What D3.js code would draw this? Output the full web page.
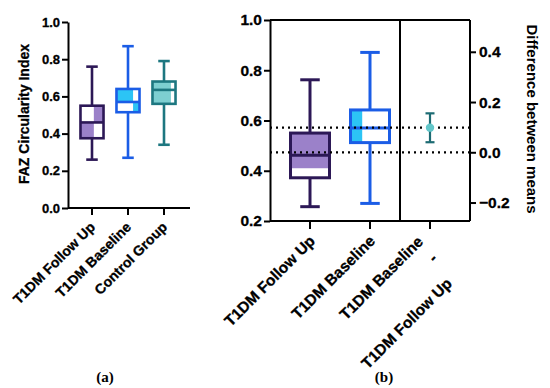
<!DOCTYPE html>
<html>
<head>
<meta charset="utf-8">
<script src="https://cdn.jsdelivr.net/npm/d3@7"></script>
<style>
  body { margin: 0; background: #fff; }
  svg { display: block; }
</style>
</head>
<body>
<svg id="chart" width="550" height="388"></svg>
<script>
// ---- data ----
const groupsA = ["T1DM Follow Up", "T1DM Baseline", "Control Group"];
const minA    = [0.26, 0.27, 0.34];
const q1A     = [0.375, 0.515, 0.56];
const medA    = [0.46, 0.57, 0.635];
const q3A     = [0.55, 0.64, 0.68];
const maxA    = [0.76, 0.87, 0.79];

const groupsB = ["T1DM Follow Up", "T1DM Baseline"];
const minB    = [0.257, 0.27];
const q1B     = [0.372, 0.512];
const medB    = [0.462, 0.57];
const q3B     = [0.55, 0.642];
const maxB    = [0.762, 0.871];
const meansB  = [0.4735, 0.5715];

const diffLabel = ["T1DM Baseline", "-", "T1DM Follow Up"];
const diffMean  = 0.098;
const diffLo    = 0.04;
const diffHi    = 0.155;

const ticksA      = [0, 0.2, 0.4, 0.6, 0.8, 1.0];
const ticksB      = [0.2, 0.4, 0.6, 0.8, 1.0];
const ticksBRight = [-0.2, 0, 0.2, 0.4];

// ---- look ----
const strokeCol = ["#2c1856", "#1b5de6", "#1d7780"];
const fillCol   = ["#9b81c9", "#2cc4f5", "#7dcfd1"];
const font = "'Liberation Sans', Arial, sans-serif";
const fsB = 15.5;   // panel (b) was exported at a larger scale

const svg = d3.select("#chart");

// box interior shading (GraphPad export artefacts), in data units / box fractions
// part: "up" = median..q3, "lo" = q1..median
const shadeA = [
  [{ part: "up", f0: 0.58, f1: 1 }, { part: "lo", f0: 0, f1: 0.58 }],
  [{ part: "up", f0: 0, f1: 0.72 }, { part: "lo", f0: 0.72, f1: 1 }],
  [{ part: "up", f0: 0, f1: 0.8 }, { part: "lo", f0: 0, f1: 0.8 }]
];
const shadeB = [
  [{ lo: 0.41, hi: "q3", f0: 0, f1: 1 }],
  [{ lo: "q1", hi: "q3", f0: 0, f1: 0.3 }]
];

function drawBox(g, x, y, i, d, bw, sw, patches) {
  const cx = x(d.name) + bw / 2;
  const col = strokeCol[i];
  // whiskers
  g.append("line").attr("x1", cx).attr("x2", cx)
    .attr("y1", y(d.max)).attr("y2", y(d.min))
    .attr("stroke", col).attr("stroke-width", sw);
  [d.min, d.max].forEach(v => {
    g.append("line").attr("x1", cx - bw / 4).attr("x2", cx + bw / 4)
      .attr("y1", y(v)).attr("y2", y(v))
      .attr("stroke", col).attr("stroke-width", sw);
  });
  // white box
  g.append("rect").attr("x", x(d.name)).attr("width", bw)
    .attr("y", y(d.q3)).attr("height", y(d.q1) - y(d.q3))
    .attr("fill", "#fff");
  patches.forEach(p => {
    let lo, hi;
    if (p.part === "up") { lo = d.med; hi = d.q3; }
    else if (p.part === "lo") { lo = d.q1; hi = d.med; }
    else { lo = typeof p.lo === "string" ? d[p.lo] : p.lo; hi = typeof p.hi === "string" ? d[p.hi] : p.hi; }
    g.append("rect")
      .attr("x", x(d.name) + bw * p.f0).attr("width", bw * (p.f1 - p.f0))
      .attr("y", y(hi)).attr("height", y(lo) - y(hi))
      .attr("fill", fillCol[i]);
  });
  g.append("rect").attr("x", x(d.name)).attr("width", bw)
    .attr("y", y(d.q3)).attr("height", y(d.q1) - y(d.q3))
    .attr("fill", "none").attr("stroke", col).attr("stroke-width", sw);
  g.append("line").attr("x1", x(d.name)).attr("x2", x(d.name) + bw)
    .attr("y1", y(d.med)).attr("y2", y(d.med))
    .attr("stroke", col).attr("stroke-width", sw);
}

// heavier-looking bold text (the source is a JPEG of Helvetica Bold)
function boldText(sel) {
  sel.attr("fill", "#000").attr("font-family", font).attr("font-weight", "bold")
    .attr("stroke", "#000").attr("stroke-width", 0.3);
}

function styleAxis(sel) {
  sel.selectAll("path, line").attr("stroke", "#000").attr("stroke-width", 2);
  sel.selectAll("text").call(boldText);
}

// ================= panel (a) =================
const yA = d3.scaleLinear().domain([0, 1]).range([208, 22]);
const xA = d3.scaleBand().domain(groupsA).range([74, 182]).paddingInner(0.36).paddingOuter(0.18);
const gA = svg.append("g");

gA.append("g").attr("transform", "translate(68,0)")
  .call(d3.axisLeft(yA).tickValues(ticksA).tickFormat(d3.format(".1f")).tickSize(6).tickSizeOuter(0).tickPadding(2))
  .call(styleAxis)
  .selectAll("text").attr("font-size", 13);

gA.append("g").attr("transform", "translate(0,208)")
  .call(d3.axisBottom(xA).tickSize(7).tickSizeOuter(0))
  .call(styleAxis)
  .call(a => a.select(".domain").attr("d", "M68,0H190"))
  .selectAll("text")
  .attr("font-size", 14).attr("text-anchor", "end")
  .attr("x", 0).attr("y", 0).attr("dy", 0)
  .attr("transform", "translate(4,20) rotate(-45)");

groupsA.forEach((name, i) => {
  drawBox(gA, xA, yA, i,
    { name, min: minA[i], q1: q1A[i], med: medA[i], q3: q3A[i], max: maxA[i] },
    xA.bandwidth(), 2.6, shadeA[i]);
});

gA.append("text")
  .attr("transform", "translate(29,114) rotate(-90)")
  .attr("text-anchor", "middle")
  .attr("font-size", 14)
  .call(boldText)
  .text("FAZ Circularity Index");

// ================= panel (b) =================
const yB = d3.scaleLinear().domain([0.2, 1.0]).range([221, 20]);
const yR = d3.scaleLinear().domain([0.2 - meansB[0], 1.0 - meansB[0]]).range([221, 20]);
const xB = d3.scaleBand().domain([...groupsB, "diff"]).range([280, 460]).paddingInner(0.35).paddingOuter(0.175);
const gB = svg.append("g");
const left = 270, right = 470, divider = 400;

// frame
gB.append("line").attr("x1", left).attr("x2", right).attr("y1", yB(1)).attr("y2", yB(1))
  .attr("stroke", "#000").attr("stroke-width", 2);
gB.append("line").attr("x1", divider).attr("x2", divider).attr("y1", yB(1)).attr("y2", yB(0.2))
  .attr("stroke", "#000").attr("stroke-width", 2);

gB.append("g").attr("transform", `translate(${left},0)`)
  .call(d3.axisLeft(yB).tickValues(ticksB).tickFormat(d3.format(".1f")).tickSize(6).tickSizeOuter(0).tickPadding(2))
  .call(styleAxis)
  .selectAll("text").attr("font-size", fsB);

gB.append("g").attr("transform", `translate(${right},0)`)
  .call(d3.axisRight(yR).tickValues(ticksBRight).tickFormat(d3.format(".1f")).tickSize(6).tickSizeOuter(0).tickPadding(3))
  .call(styleAxis)
  .call(a => a.select(".domain").attr("d", `M0,${yB(1)}V${yB(0.2)}`))
  .selectAll("text").attr("font-size", fsB);

const xAxB = gB.append("g").attr("transform", `translate(0,${yB(0.2)})`)
  .call(d3.axisBottom(xB).tickSize(8).tickSizeOuter(0).tickFormat(d => d === "diff" ? "" : d))
  .call(styleAxis)
  .call(a => a.select(".domain").attr("d", `M${left},0H${right}`));
xAxB.selectAll("text")
  .attr("font-size", fsB).attr("text-anchor", "end")
  .attr("x", 0).attr("y", 0).attr("dy", 0)
  .attr("transform", "translate(6,21) rotate(-45)");

// multi-line label for the difference column
const dl = gB.append("text")
  .attr("transform", `translate(${xB("diff") + xB.bandwidth() / 2 + 6},${yB(0.2) + 21}) rotate(-45)`)
  .attr("text-anchor", "end")
  .attr("font-size", fsB)
  .call(boldText);
const lineX = [-9, -11, -18];
const lineY = [-8, 14, 42];
diffLabel.forEach((t, k) => {
  dl.append("tspan").attr("x", lineX[k]).attr("y", lineY[k]).text(t);
});

groupsB.forEach((name, i) => {
  drawBox(gB, xB, yB, i,
    { name, min: minB[i], q1: q1B[i], med: medB[i], q3: q3B[i], max: maxB[i] },
    xB.bandwidth(), 3, shadeB[i]);
});

// mean reference lines
meansB.forEach(m => {
  gB.append("line").attr("x1", left).attr("x2", right).attr("y1", yB(m)).attr("y2", yB(m))
    .attr("stroke", "#000").attr("stroke-width", 2.2)
    .attr("stroke-dasharray", "2,4").attr("stroke-linecap", "butt");
});

// difference between means with CI
const dx = xB("diff") + xB.bandwidth() / 2;
gB.append("line").attr("x1", dx).attr("x2", dx).attr("y1", yR(diffHi)).attr("y2", yR(diffLo))
  .attr("stroke", "#1d6b73").attr("stroke-width", 2.2);
[diffLo, diffHi].forEach(v => {
  gB.append("line").attr("x1", dx - 4.5).attr("x2", dx + 4.5).attr("y1", yR(v)).attr("y2", yR(v))
    .attr("stroke", "#1d6b73").attr("stroke-width", 2.2);
});
gB.append("circle").attr("cx", dx).attr("cy", yR(diffMean)).attr("r", 4.2).attr("fill", "#63c7ca");

gB.append("text")
  .attr("transform", "translate(527,119) rotate(90)")
  .attr("text-anchor", "middle")
  .attr("font-size", 15)
  .call(boldText)
  .attr("stroke-width", 0)
  .text("Difference between means");

// captions
[["(a)", 105], ["(b)", 384]].forEach(([t, x]) => {
  svg.append("text").attr("x", x).attr("y", 382).attr("text-anchor", "middle")
    .attr("font-family", "'Liberation Serif', 'DejaVu Serif', serif").attr("font-weight", "bold")
    .attr("font-size", 15).text(t);
});
</script>
</body>
</html>
